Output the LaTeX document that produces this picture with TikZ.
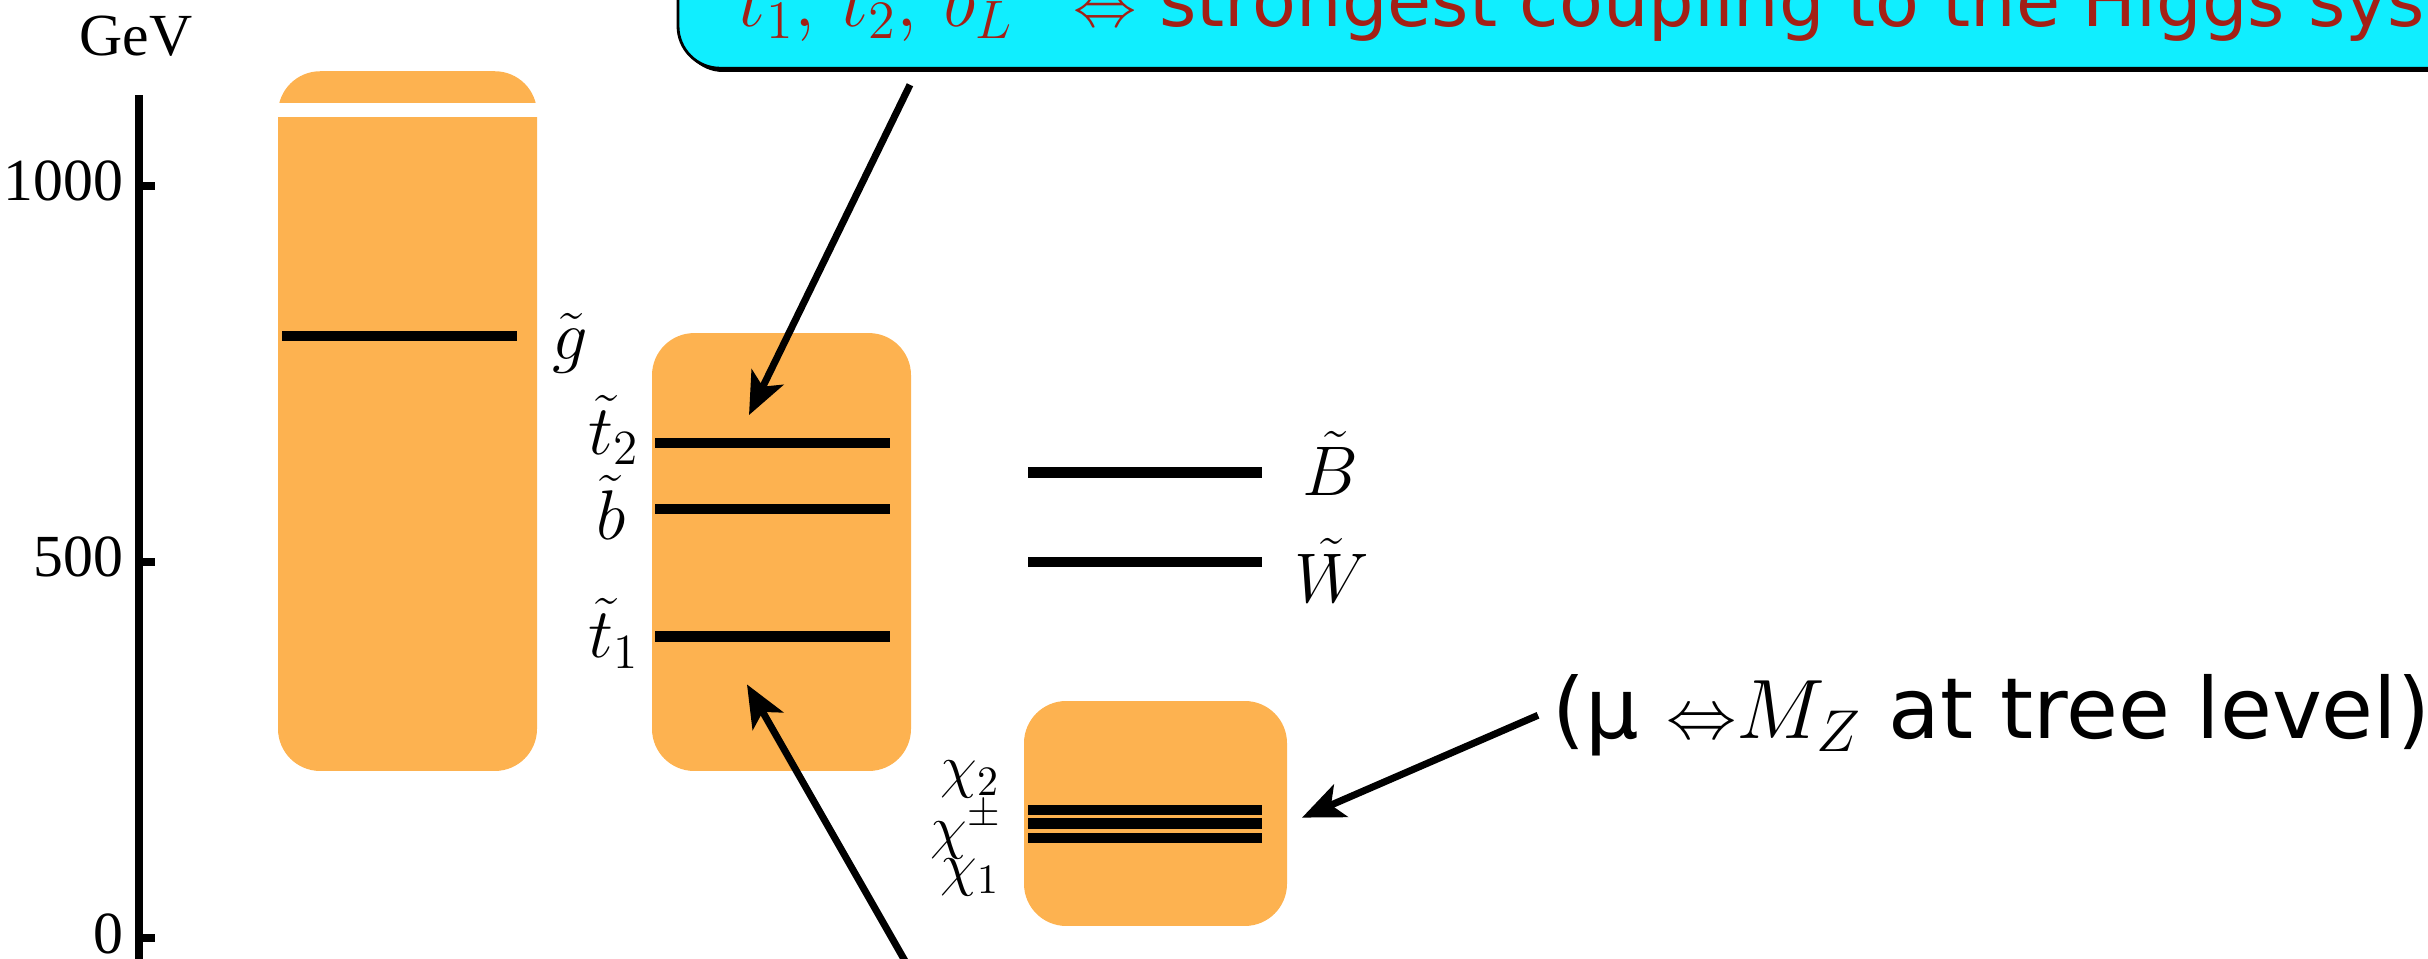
\documentclass[tikz,border=0pt]{standalone}
\usepackage{fix-cm}
\usepackage{fontspec}
\setmainfont{Liberation Serif}
\newfontfamily\handfont{DejaVu Sans}
\usetikzlibrary{arrows.meta}
\definecolor{boxorange}{RGB}{253,178,80}
\definecolor{boxcyan}{RGB}{16,238,255}
\definecolor{notered}{RGB}{163,32,22}
\begin{document}
\begin{tikzpicture}[x=0.1mm, y=0.07524mm,
    massbox/.style={fill=boxorange, rounded corners=12pt},
    level/.style={line width=3pt},
    pointer/.style={line width=2pt, -{Stealth[length=12pt, width=10pt, inset=3pt]}},
    sparticle/.style={font=\fontsize{20}{22}\selectfont},
    neutralino/.style={font=\fontsize{17}{18}\selectfont, inner sep=0pt},
    ticklabel/.style={font=\fontsize{17}{18}\selectfont, anchor=east, inner sep=0pt}]
\path[use as bounding box, clip] (0,-26.6) rectangle (2428,1246.7);
% energy axis in GeV
\draw[line width=2.3pt] (139,1120) -- (139,-40);
\foreach \e in {0,500,1000}{
  \draw[line width=2.3pt] (139,\e) -- (155,\e);
  \node[ticklabel] (tick\e) at (124,\e+6) {\e};
}
\node[font=\fontsize{17}{18}\selectfont] (gev) at (136,1199) {GeV};
% gluino
\fill[massbox] (278,222) rectangle (537,1152);
\fill[white] (270,1091) rectangle (545,1110);
\draw[level] (282,800) -- (517,800);
\node[sparticle] (gluino) at (570,790) {$\tilde g$};
% stops and sbottom
\fill[massbox] (652,222) rectangle (911,804);
\draw[level] (655,658) -- (890,658);
\draw[level] (655,570) -- (890,570);
\draw[level] (655,401) -- (890,401);
\node[sparticle] (stop2) at (614,675) {$\tilde t_2$};
\node[sparticle] (sbottom) at (611,572) {$\tilde b$};
\node[sparticle] (stop1) at (614,405) {$\tilde t_1$};
% bino and wino
\draw[level] (1028,619) -- (1262,619);
\draw[level] (1028,500) -- (1262,500);
\node[sparticle] (bino) at (1330,631) {$\tilde B$};
\node[sparticle] (wino) at (1332,489) {$\tilde W$};
% higgsinos
\fill[massbox] (1024,16) rectangle (1287,315);
\draw[level] (1028,170) -- (1262,170);
\draw[level] (1028,152) -- (1262,152);
\draw[level] (1028,133) -- (1262,133);
\node[neutralino] (chi2) at (970,211) {$\chi_2$};
\node[neutralino] (chipm) at (966,143) {$\chi^\pm$};
\node[neutralino] (chi1) at (970,81) {$\chi_1$};
% note on top
\fill[black, rounded corners=12pt] (681,1151) rectangle (2720,1500);
\filldraw[fill=boxcyan, line width=0.8pt, rounded corners=12pt] (678,1156) rectangle (2716,1500);
\node[anchor=base west, text=notered, font=\fontsize{22}{24}\selectfont, inner sep=0pt]
    (coupling) at (738,1211) {$\tilde t_1,\,\tilde t_2,\,\tilde b_L$\hspace{17pt}{\fontsize{18}{20}\selectfont$\Leftrightarrow$}{\fontsize{20.4}{24}\selectfont\handfont{} strongest coupling to the Higgs system}};
\node[anchor=west, font=\handfont\fontsize{24}{27}\selectfont, inner sep=4pt]
    (mzlabel) at (1538,296) {(μ {\fontsize{20}{22}\selectfont$\Leftrightarrow$}$M_Z$ at tree level)};
% arrows
\coordinate (stopup) at (910,1134);
\coordinate (stoptip) at (749,695);
\draw[pointer] (stopup) -- (stoptip);
\coordinate (stopdown) at (916,-56);
\coordinate (lighttip) at (747,337);
\draw[pointer] (stopdown) -- (lighttip);
\coordinate (higgsinotip) at (1302,160);
\draw[pointer] (mzlabel.west) -- (higgsinotip);
\end{tikzpicture}
\end{document}
